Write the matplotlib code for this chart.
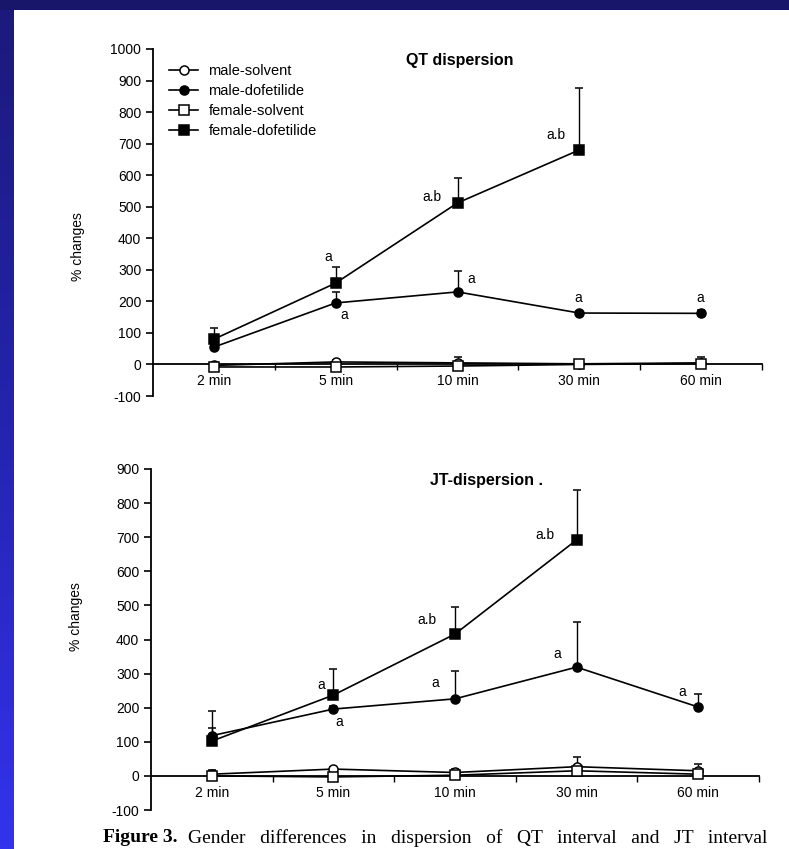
import numpy as np
import matplotlib
matplotlib.use('Agg')
import matplotlib.pyplot as plt
from matplotlib.patches import Rectangle
from matplotlib.lines import Line2D
from matplotlib.colors import LinearSegmentedColormap

plt.rcParams['font.family'] = ['Liberation Sans', 'DejaVu Sans']
plt.rcParams['axes.unicode_minus'] = False

times = ['2 min', '5 min', '10 min', '30 min', '60 min']
labels = ['male-solvent', 'male-dofetilide', 'female-solvent', 'female-dofetilide']
nan = np.nan

# QT dispersion, % change from baseline (mean and upper SEM)
qt_male_solv = [-3, 8, 5, 2, 5]
qt_male_solv_err = [5, 6, 20, 5, 20]
qt_male_dof = [55, 195, 230, 163, 162]
qt_male_dof_err = [10, 35, 67, 8, 10]
qt_fem_solv = [-8, -8, -5, 0, 3]
qt_fem_solv_err = [4, 4, 4, 4, 6]
qt_fem_dof = [80, 258, 512, 680, nan]
qt_fem_dof_err = [37, 52, 80, 197, nan]

# JT dispersion, % change from baseline (mean and upper SEM)
jt_male_solv = [5, 20, 10, 27, 15]
jt_male_solv_err = [13, 5, 10, 28, 20]
jt_male_dof = [118, 196, 226, 319, 202]
jt_male_dof_err = [22, 10, 81, 132, 38]
jt_fem_solv = [0, -3, 2, 15, 5]
jt_fem_solv_err = [4, 4, 4, 4, 4]
jt_fem_dof = [102, 237, 416, 692, nan]
jt_fem_dof_err = [88, 76, 79, 145, nan]

# significance letters: (x, y, text)
qt_marks = [(0.94, 340, 'a'), (1.07, 158, 'a'), (1.79, 530, 'a.b'),
            (2.11, 270, 'a'), (2.81, 728, 'a.b'), (2.99, 212, 'a'),
            (3.99, 212, 'a')]
jt_marks = [(0.90, 266, 'a'), (1.05, 158, 'a'), (1.77, 457, 'a.b'),
            (1.84, 272, 'a'), (2.74, 706, 'a.b'), (2.84, 357, 'a'),
            (3.87, 246, 'a')]

styles = [dict(marker='o', mfc='white'), dict(marker='o', mfc='black'),
          dict(marker='s', mfc='white'), dict(marker='s', mfc='black')]

W, H = 789, 849
fig = plt.figure(figsize=(W / 100, H / 100), dpi=100, facecolor='#17166b')

# white page with a blue gradient strip on the left
fig.patches.append(Rectangle((14 / W, 0), 1, (H - 10) / H, transform=fig.transFigure,
                             facecolor='white', edgecolor='none', zorder=-5))
gax = fig.add_axes([0, 0, 14 / W, (H - 10) / H])
cmap = LinearSegmentedColormap.from_list('strip', ['#3333ee', '#2424b0', '#1b1a7c'])
gax.imshow(np.linspace(0, 1, 256).reshape(-1, 1), aspect='auto', cmap=cmap, origin='lower')
gax.axis('off')


def panel(rect, data, marks, ylim, title, title_xy, ylabel_y, legend=False):
    ax = fig.add_axes(rect)
    x = np.arange(len(times))
    handles = []
    for (vals, errs), st, lab in zip(data, styles, labels):
        vals = np.array(vals, float)
        errs = np.array(errs, float)
        ax.errorbar(x, vals, yerr=[np.zeros_like(errs), errs], color='black',
                    lw=1.2, elinewidth=1, capsize=3, capthick=1,
                    marker=st['marker'], mfc=st['mfc'], mec='black', ms=6.5,
                    mew=1.1, zorder=3)
        handles.append(Line2D([], [], color='black', lw=1.2, marker=st['marker'],
                              mfc=st['mfc'], mec='black', ms=6.5, mew=1.1, label=lab))
    for mx, my, txt in marks:
        ax.text(mx, my, txt, ha='center', va='center', fontsize=10)

    ax.set_xlim(-0.5, 4.5)
    ax.set_ylim(*ylim)
    ax.spines['top'].set_visible(False)
    ax.spines['right'].set_visible(False)
    ax.spines['bottom'].set_position(('data', 0))
    ax.spines['left'].set_linewidth(1.3)
    ax.spines['bottom'].set_linewidth(1.3)
    ax.set_yticks(np.arange(ylim[0], ylim[1] + 1, 100))
    ax.set_xticks(x)
    ax.set_xticklabels(times)
    ax.set_xticks(np.arange(0.5, 4.6, 1), minor=True)
    ax.tick_params(axis='x', which='major', length=0, pad=7, labelsize=10)
    ax.tick_params(axis='x', which='minor', length=4, direction='out', width=1)
    ax.tick_params(axis='y', length=5, width=1.2, direction='out', labelsize=10)
    ax.set_ylabel('% changes', fontsize=10)
    ax.yaxis.set_label_coords(-0.112, ylabel_y)
    ax.patch.set_alpha(0)
    fig.text(title_xy[0] / W, 1 - title_xy[1] / H, title, ha='center', va='center',
             fontsize=11.5, fontweight='bold')
    if legend:
        ax.legend(handles=handles, loc='upper left', bbox_to_anchor=(0.005, 0.995),
                  frameon=False, fontsize=10.5, handlelength=2.0, labelspacing=0.42,
                  handletextpad=0.7)
    return ax


top = panel([153 / W, 1 - 396 / H, 609 / W, 347 / H],
            [(qt_male_solv, qt_male_solv_err), (qt_male_dof, qt_male_dof_err),
             (qt_fem_solv, qt_fem_solv_err), (qt_fem_dof, qt_fem_dof_err)],
            qt_marks, (-100, 1000), 'QT dispersion', (460, 61), 0.43, legend=True)

bottom = panel([151 / W, 1 - 810 / H, 608 / W, 341 / H],
               [(jt_male_solv, jt_male_solv_err), (jt_male_dof, jt_male_dof_err),
                (jt_fem_solv, jt_fem_solv_err), (jt_fem_dof, jt_fem_dof_err)],
               jt_marks, (-100, 900), 'JT-dispersion .', (486, 480), 0.566)

# figure caption along the bottom edge of the page
fig.text(103 / W, 1 - 829 / H, 'Figure 3.', ha='left', va='top', fontsize=14,
         fontweight='bold', family='Liberation Serif')
fig.text(188 / W, 1 - 829 / H,
         'Gender   differences   in   dispersion   of   QT   interval   and   JT   interval',
         ha='left', va='top', fontsize=14, family='Liberation Serif')

fig.savefig('out.png', dpi=100, facecolor=fig.get_facecolor())
